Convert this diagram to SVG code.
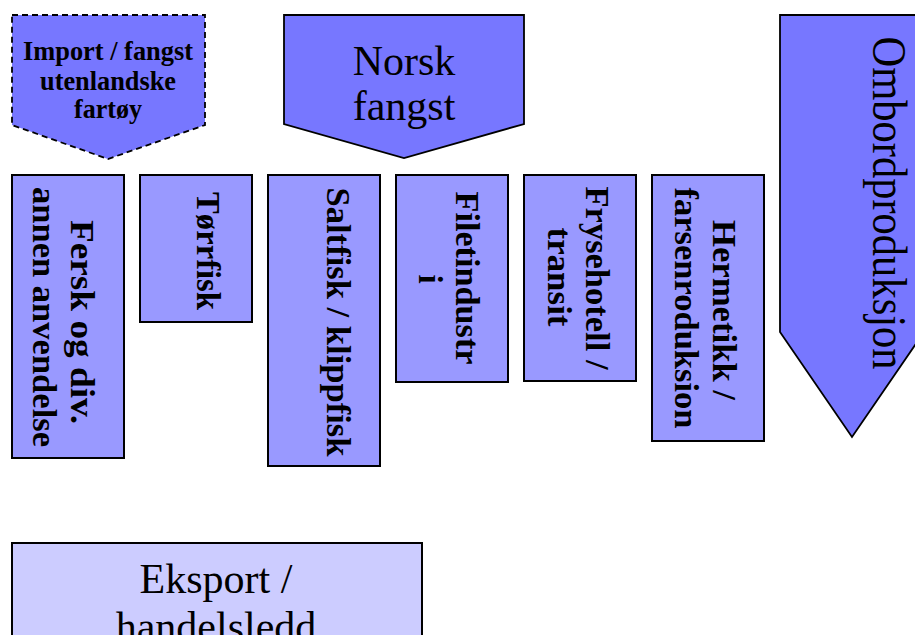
<svg xmlns="http://www.w3.org/2000/svg" width="915" height="635" viewBox="0 0 915 635">
<style>
.pent{fill:#7777ff;stroke:#000;stroke-width:1.8}
.box{fill:#9999ff;stroke:#000;stroke-width:2}
.exp{fill:#ccccff;stroke:#000;stroke-width:2}
.b{font-family:'Liberation Serif','DejaVu Serif','Times New Roman',serif;font-weight:bold;fill:#000}
.r{font-family:'Liberation Serif','DejaVu Serif','Times New Roman',serif;fill:#000}
</style>
<rect width="915" height="635" fill="#fff"/>
<g id="connectors"/>
<g id="import">
<polygon class="pent" stroke-dasharray="6,4" points="12,15 205,15 205,125 108,159 12,125"/>
<text class="b" font-size="27" text-anchor="middle" x="108" y="60" textLength="170" lengthAdjust="spacingAndGlyphs">Import / fangst</text>
<text class="b" font-size="27" text-anchor="middle" x="108" y="90" textLength="136" lengthAdjust="spacingAndGlyphs">utenlandske</text>
<text class="b" font-size="27" text-anchor="middle" x="108" y="118" textLength="68" lengthAdjust="spacingAndGlyphs">fartøy</text>
</g>
<g id="norsk">
<polygon class="pent" points="284,15 524,15 524,124 404,158 284,124"/>
<text class="r" font-size="42" text-anchor="middle" x="404" y="75">Norsk</text>
<text class="r" font-size="42" text-anchor="middle" x="404" y="120">fangst</text>
</g>
<g id="ombord">
<polygon class="pent" points="780,15 924,15 924,332 852,437 780,332"/>
<text class="r" font-size="48" text-anchor="middle" transform="translate(873,203) rotate(90)" textLength="333" lengthAdjust="spacingAndGlyphs">Ombordproduksjon</text>
</g>
<g id="fersk">
<rect class="box" x="12" y="175" width="112" height="283"/>
<text class="b" font-size="33" text-anchor="middle" transform="translate(71,322) rotate(90)" textLength="204" lengthAdjust="spacingAndGlyphs">Fersk og div.</text>
<text class="b" font-size="33" text-anchor="middle" transform="translate(33,317) rotate(90)" textLength="260" lengthAdjust="spacingAndGlyphs">annen anvendelse</text>
</g>
<g id="torrfisk">
<rect class="box" x="140" y="175" width="112" height="147"/>
<text class="b" font-size="33" text-anchor="middle" transform="translate(197,251) rotate(90)" textLength="118" lengthAdjust="spacingAndGlyphs">Tørrfisk</text>
</g>
<g id="saltfisk">
<rect class="box" x="268" y="175" width="112" height="291"/>
<text class="b" font-size="33" text-anchor="middle" transform="translate(327,322) rotate(90)" textLength="269" lengthAdjust="spacingAndGlyphs">Saltfisk / klippfisk</text>
</g>
<g id="filet">
<rect class="box" x="396" y="175" width="112" height="207"/>
<text class="b" font-size="33" text-anchor="middle" transform="translate(456,278) rotate(90)" textLength="173" lengthAdjust="spacingAndGlyphs">Filetindustr</text>
<text class="b" font-size="33" text-anchor="middle" transform="translate(419,279) rotate(90)">i</text>
</g>
<g id="fryse">
<rect class="box" x="524" y="175" width="112" height="206"/>
<text class="b" font-size="33" text-anchor="middle" transform="translate(586,278) rotate(90)" textLength="183" lengthAdjust="spacingAndGlyphs">Frysehotell /</text>
<text class="b" font-size="33" text-anchor="middle" transform="translate(548,277) rotate(90)" textLength="99" lengthAdjust="spacingAndGlyphs">transit</text>
</g>
<g id="hermetikk">
<rect class="box" x="652" y="175" width="112" height="266"/>
<text class="b" font-size="33" text-anchor="middle" transform="translate(713,310) rotate(90)" textLength="180" lengthAdjust="spacingAndGlyphs">Hermetikk /</text>
<text class="b" font-size="33" text-anchor="middle" transform="translate(675,308) rotate(90)" textLength="241" lengthAdjust="spacingAndGlyphs">farsenroduksion</text>
</g>
<g id="eksport">
<rect class="exp" x="12" y="543" width="410" height="110"/>
<text class="r" font-size="42" text-anchor="middle" x="216" y="593">Eksport /</text>
<text class="r" font-size="42" text-anchor="middle" x="216" y="641">handelsledd</text>
</g>
</svg>
